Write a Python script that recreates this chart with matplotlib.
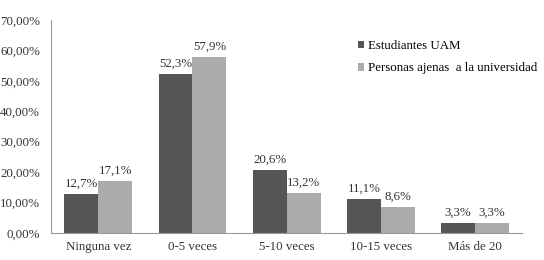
import numpy as np
import matplotlib.pyplot as plt

plt.rcParams['font.family'] = ['Liberation Serif', 'DejaVu Serif']

# Data
categories = ["Ninguna vez", "0-5 veces", "5-10 veces", "10-15 veces", "Más de 20"]
uam = [12.7, 52.3, 20.6, 11.1, 3.3]
ajenas = [17.1, 57.9, 13.2, 8.6, 3.3]
series_names = ["Estudiantes UAM", "Personas ajenas  a la universidad"]

dark = "#555555"
light = "#ababab"
fs = 9.3

fig = plt.figure(figsize=(5.44, 2.60), dpi=100)
ax = fig.add_axes([0.094, 0.104, 0.866, 0.819])

x = np.arange(len(categories))
w = 0.36
b1 = ax.bar(x - w/2, uam, w, color=dark, label=series_names[0])
b2 = ax.bar(x + w/2, ajenas, w, color=light, label=series_names[1])

def fmt(v):
    return f"{v:.1f}%".replace(".", ",")

for bars, vals in [(b1, uam), (b2, ajenas)]:
    for r, v in zip(bars, vals):
        ax.annotate(fmt(v), (r.get_x() + r.get_width()/2, v),
                    xytext=(0, 3), textcoords="offset points",
                    ha="center", va="bottom", fontsize=fs, color="#333333")

ax.set_xlim(-0.5, len(categories) - 0.5)
ax.set_ylim(0, 70)
ax.set_yticks(np.arange(0, 71, 10))
ax.set_yticklabels([f"{t:.2f}%".replace(".", ",") for t in np.arange(0, 71, 10)])
ax.set_xticks(x)
ax.set_xticklabels(categories)
ax.tick_params(axis="both", length=0, labelsize=fs, colors="#333333")
ax.tick_params(axis="x", pad=6)
ax.tick_params(axis="y", pad=8)
for s in ["top", "right"]:
    ax.spines[s].set_visible(False)
for s in ["left", "bottom"]:
    ax.spines[s].set_color("#999999")

ax.legend(loc="upper left", bbox_to_anchor=(0.64, 0.93), frameon=False,
          fontsize=fs, handlelength=0.5, handleheight=0.5, handletextpad=0.3,
          labelspacing=0.8, borderaxespad=0)

fig.savefig("out.png", dpi=100)
